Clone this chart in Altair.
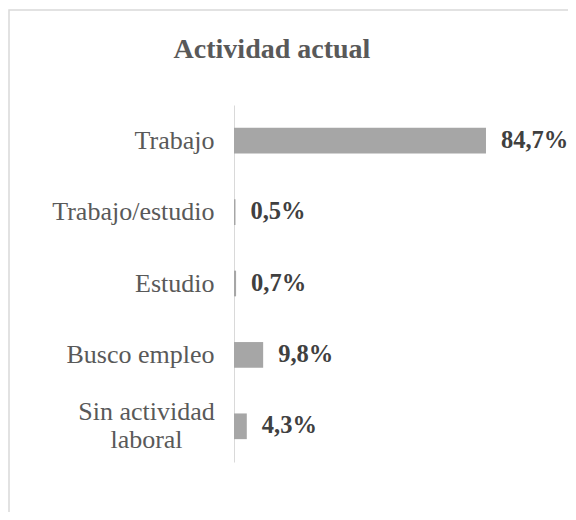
import altair as alt
import pandas as pd

categories = ["Trabajo", "Trabajo/estudio", "Estudio", "Busco empleo", "Sin actividad laboral"]
values = [84.7, 0.5, 0.7, 9.8, 4.3]
labels = ["84,7%", "0,5%", "0,7%", "9,8%", "4,3%"]
title_text = ["Actividad actual"]

df = pd.DataFrame({"cat": categories, "val": values, "lab": labels})

FONT = "Liberation Serif"
WRAP = "datum.value == 'Sin actividad laboral'"

y_enc = alt.Y("cat:N", sort=categories, title=None,
              scale=alt.Scale(paddingInner=0.64, paddingOuter=0.32),
              axis=alt.Axis(domainColor="#d9d9d9", domainWidth=1, ticks=False, grid=False,
                            labelFont=FONT, labelFontSize=26, labelColor="#595959",
                            labelLineHeight=28, labelLimit=300,
                            labelPadding={"condition": {"test": WRAP, "value": 88}, "value": 20},
                            labelAlign={"condition": {"test": WRAP, "value": "center"}, "value": "right"},
                            labelOffset={"condition": {"test": WRAP, "value": -14}, "value": 0},
                            labelExpr=WRAP + " ? ['Sin actividad', 'laboral'] : datum.value"))
x_enc = alt.X("val:Q", scale=alt.Scale(domain=[0, 100]), axis=None)

frame = alt.Chart(pd.DataFrame({"a": [0]})).mark_rect(
    fill=None, fillOpacity=0, stroke="#d9d9d9", strokeWidth=1.5, clip=False
).encode(x=alt.value(-225), x2=alt.value(600), y=alt.value(-95), y2=alt.value(600))

title = alt.Chart(pd.DataFrame({"t": title_text})).mark_text(
    font=FONT, fontSize=28, fontWeight="bold", color="#595959", align="center", baseline="alphabetic"
).encode(x=alt.value(38), y=alt.value(-47), text="t:N")

bars = alt.Chart(df).mark_bar(color="#a6a6a6").encode(x=x_enc, y=y_enc)
text = alt.Chart(df).mark_text(align="left", baseline="middle", dx=15, font=FONT,
                               fontSize=24.5, fontWeight="bold", color="#404040").encode(
    x=x_enc, y=y_enc, text="lab:N")

chart = alt.layer(frame, title, bars, text).properties(
    width=297.5, height=357,
    autosize=alt.AutoSizeParams(type="none"),
    padding={"left": 226, "top": 97, "right": 36.5, "bottom": 50},
).configure_view(stroke=None)

chart.save("out.html", embed_options={"renderer": "svg", "actions": False})
